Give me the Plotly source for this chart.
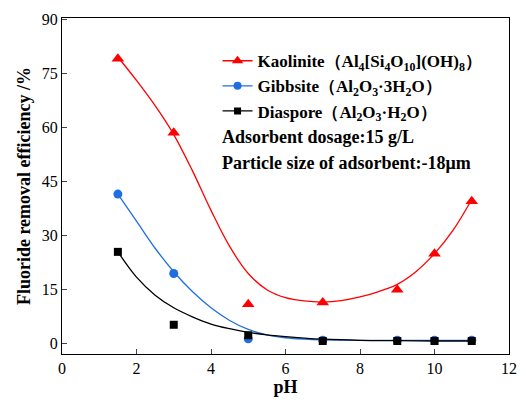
import plotly.graph_objects as go

ph = [1.5, 3, 5, 7, 9, 10, 11]
kaolinite = [79, 58.5, 11, 11.5, 15, 25, 39.5]
gibbsite = [41.5, 19.5, 1.4, 1.0, 1.0, 1.0, 1.0]
diaspore = [25.5, 5.3, 2.4, 0.8, 0.8, 0.8, 0.8]

fit_x_k = [1.5, 2, 2.5, 3, 3.5, 4, 4.5, 5, 5.5, 6, 6.5, 7, 7.5, 8, 8.5, 9, 9.5, 10, 10.5, 11]
fit_k = [79.5, 73, 66, 58, 48, 37, 27, 19.5, 15, 12.8, 11.9, 11.6, 12, 13, 14.5, 16.5, 20, 25, 31.5, 40]
fit_x = [1.5, 2, 2.5, 3, 3.5, 4, 4.5, 5, 5.5, 6, 6.5, 7, 8, 9, 10, 11]
fit_g = [41.5, 34, 26.5, 20, 14.5, 10, 6.5, 4, 2.5, 1.7, 1.3, 1.1, 1.0, 1.0, 1.0, 1.0]
fit_d = [25.5, 18.5, 13.5, 10, 7.5, 5.5, 4.2, 3.2, 2.5, 2.0, 1.6, 1.3, 1.0, 0.9, 0.8, 0.8]

names = ["<b>Kaolinite（Al<sub>4</sub>[Si<sub>4</sub>O<sub>10</sub>](OH)<sub>8</sub>）</b>",
         "<b>Gibbsite（Al<sub>2</sub>O<sub>3</sub>·3H<sub>2</sub>O）</b>",
         "<b>Diaspore（Al<sub>2</sub>O<sub>3</sub>·H<sub>2</sub>O）</b>"]
colors = ["#FF0000", "#1F6FE0", "#000000"]
symbols = ["triangle-up", "circle", "square"]
sizes = [11, 9, 8]

FONT = "Liberation Serif, Times New Roman, serif"

fig = go.Figure()
series = [(fit_x_k, fit_k, kaolinite), (fit_x, fit_g, gibbsite), (fit_x, fit_d, diaspore)]
for i, (fx, fy, pts) in enumerate(series):
    fig.add_trace(go.Scatter(x=fx, y=fy, mode="lines",
                             line=dict(color=colors[i], width=1.3, shape="spline", smoothing=1.0),
                             showlegend=False, hoverinfo="skip"))
    fig.add_trace(go.Scatter(x=ph, y=pts, mode="markers",
                             marker=dict(color=colors[i], symbol=symbols[i], size=sizes[i]),
                             showlegend=False))
    fig.add_trace(go.Scatter(x=[None], y=[None], mode="lines+markers", name=names[i],
                             line=dict(color=colors[i], width=1.3),
                             marker=dict(color=colors[i], symbol=symbols[i], size=sizes[i] - 1)))

fig.add_annotation(text="<b>Adsorbent dosage:15 g/L</b>", xref="x", yref="y",
                   x=4.25, y=57.2, xanchor="left", yanchor="middle", showarrow=False,
                   font=dict(family=FONT, size=18, color="black"))
fig.add_annotation(text="<b>Particle size of adsorbent:-18μm</b>", xref="x", yref="y",
                   x=4.25, y=50.0, xanchor="left", yanchor="middle", showarrow=False,
                   font=dict(family=FONT, size=18, color="black"))

fig.update_layout(
    width=526, height=401,
    margin=dict(l=62, r=9, t=18, b=46),
    plot_bgcolor="white", paper_bgcolor="white",
    font=dict(family=FONT, size=16, color="black"),
    legend=dict(x=0.348, y=0.925, xanchor="left", yanchor="top",
                bgcolor="rgba(0,0,0,0)", tracegroupgap=0,
                font=dict(family=FONT, size=17, color="black"),
                itemwidth=30),
    xaxis=dict(range=[0, 12], tickvals=[0, 2, 4, 6, 8, 10, 12], ticks="inside", ticklen=5,
               showline=True, linecolor="black", linewidth=1, mirror=True,
               showgrid=False, zeroline=False,
               title=dict(text="<b>pH</b>", font=dict(size=18), standoff=2),
               tickfont=dict(size=16)),
    yaxis=dict(range=[-2.8, 90.3], tickvals=[0, 15, 30, 45, 60, 75, 90], ticks="inside", ticklen=5,
               showline=True, linecolor="black", linewidth=1, mirror=True,
               showgrid=False, zeroline=False,
               title=dict(text="<b>Fluoride removal efficiency /%</b>", font=dict(size=18), standoff=6),
               tickfont=dict(size=16)),
)

fig.write_html("out.html")
